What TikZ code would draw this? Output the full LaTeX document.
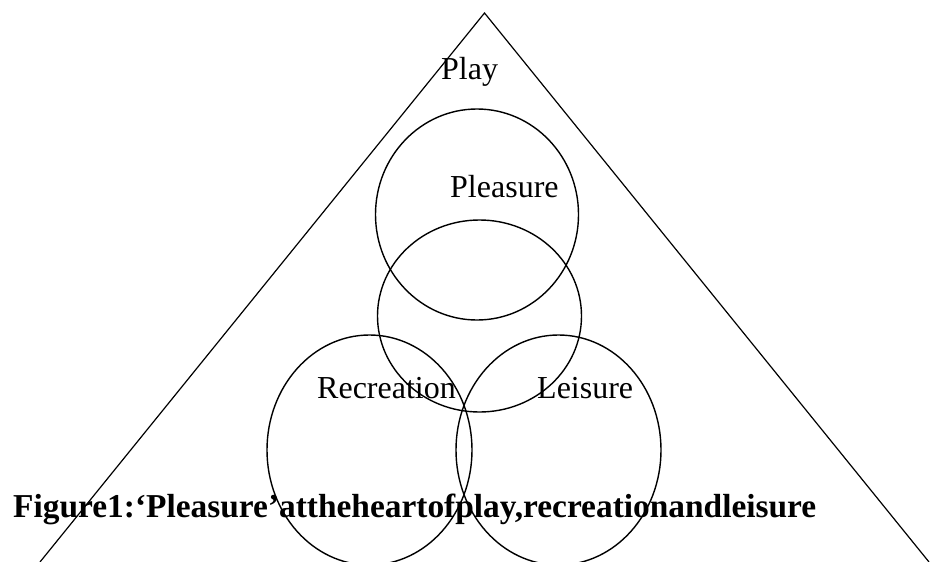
\documentclass[tikz,border=0pt]{standalone}
\usepackage{fontspec}
\setmainfont{Liberation Serif}
\usetikzlibrary{shapes.geometric}

\begin{document}
\begin{tikzpicture}[x=1pt, y=-1pt,
    ring/.style={ellipse, draw, line width=1.4pt, inner sep=0pt},
    word/.style={anchor=base west, inner sep=0pt, font=\fontsize{32}{38}\selectfont}]
    \useasboundingbox (0, 0) rectangle (934, 562);
    % Triangle
    \coordinate (Apex) at (484.5, 13);
    \coordinate (FootL) at (40, 562);
    \coordinate (FootR) at (929, 562);
    \draw[line width=1.2pt] (FootL) -- (Apex) -- (FootR);
    % Circles
    \node[ring, minimum width=203pt, minimum height=211pt] (PleasureRing) at (477, 214.5) {};
    \node[ring, minimum width=204pt, minimum height=192pt] (CoreRing) at (479.5, 316) {};
    \node[ring, minimum width=205pt, minimum height=230pt] (RecreationRing) at (369.5, 450) {};
    \node[ring, minimum width=205pt, minimum height=230pt] (LeisureRing) at (558.5, 450) {};
    % Labels
    \node[word] (PlayText) at (441, 79) {Play};
    \node[word] (PleasureText) at (450, 197) {Pleasure};
    \node[word] (RecreationText) at (317, 398) {Recreation};
    \node[word] (LeisureText) at (537, 398) {Leisure};
    % Caption
    \node[word, font=\fontsize{33.4}{40}\selectfont\bfseries] (Caption) at (13, 517)
        {Figure1:‘Pleasure’attheheartofplay,recreationandleisure};
\end{tikzpicture}
\end{document}
